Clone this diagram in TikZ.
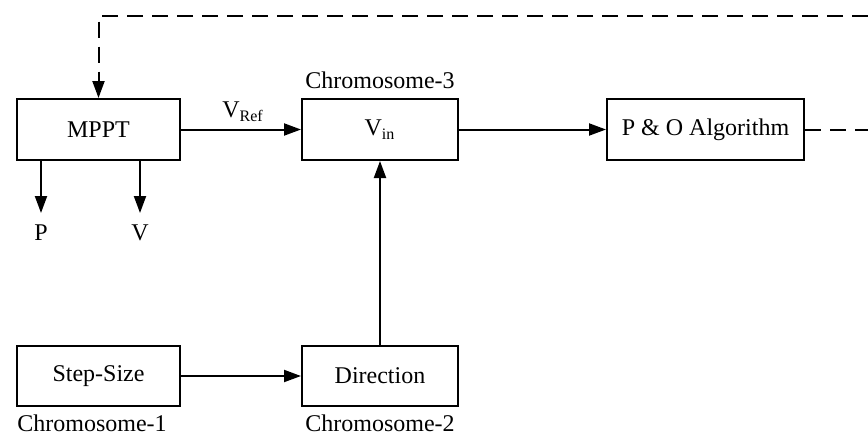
\documentclass[tikz,border=0pt]{standalone}
\usepackage{fontspec}
\setmainfont{Liberation Serif}
\usetikzlibrary{arrows.meta}
\begin{document}
\begin{tikzpicture}[x=0.5pt,y=-0.5pt,
  blk/.style={draw,line width=1pt,inner sep=0pt,minimum height=30.5pt,font=\fontsize{12}{14}\selectfont},
  lbl/.style={inner sep=0pt,font=\fontsize{12}{14}\selectfont},
  arr/.style={line width=1pt,-{Triangle[length=8.5pt,width=6pt]}},
  dsh/.style={line width=1pt,dash pattern=on 8pt off 4.5pt}]
\useasboundingbox (0,0) rectangle (868,434);
\node[blk,minimum width=81.5pt] (mppt) at (98.5,129.5) {MPPT};
\node[blk,minimum width=78pt] (vin) at (380,129.5) {V\textsubscript{in}};
\node[blk,minimum width=98.5pt] (po) at (705.5,129.5) {P \& O Algorithm};
\node[blk,minimum width=81.5pt,minimum height=30pt] (step) at (98.5,376) {Step-Size};
\node[blk,minimum width=78pt,minimum height=30pt] (dir) at (380,376) {Direction};
\node[lbl] (c3) at (380,80) {Chromosome-3};
\node[lbl] (c1) at (92,423) {Chromosome-1};
\node[lbl] (c2) at (380,423) {Chromosome-2};
\node[lbl] (vref) at (243,112) {V\textsubscript{Ref}};
\node[lbl] (p) at (41,233) {P};
\node[lbl] (v) at (140,233) {V};
\coordinate (pe) at (41,213);
\coordinate (ve) at (140,213);
\coordinate (re) at (868,129.5);
\coordinate (rt) at (868,16);
\draw[arr] (mppt) -- (vin);
\draw[arr] (vin) -- (po);
\draw[arr] (step) -- (dir);
\draw[arr] (dir) -- (vin);
\draw[arr] (mppt.south -| pe) -- (pe);
\draw[arr] (mppt.south -| ve) -- (ve);
\draw[dsh] (po.east) -- (re);
\draw[dsh,-{Triangle[length=8.5pt,width=6pt]}] (rt) -- (rt -| mppt.north) -- (mppt.north);
\end{tikzpicture}
\end{document}
